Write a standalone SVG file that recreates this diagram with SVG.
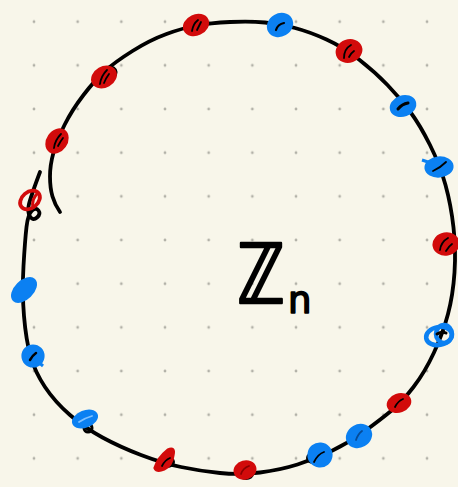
<svg xmlns="http://www.w3.org/2000/svg" width="458" height="487" viewBox="0 0 458 487">
<defs>
<pattern id="grid" patternUnits="userSpaceOnUse" x="12.17" y="-0.13" width="43.67" height="43.67">
<circle cx="21.83" cy="21.83" r="1.4" fill="#b2b1a8"/>
</pattern>
<style>
.bg{fill:#f8f6ea}
.ring{fill:none;stroke:#000;stroke-width:3.8;stroke-linecap:round;stroke-linejoin:round}
.r{fill:#d20b0b;stroke:#d20b0b;stroke-width:3.2;stroke-linejoin:round}
.b{fill:#0b80f2;stroke:#0b80f2;stroke-width:3.2;stroke-linejoin:round}
.ro{fill:none;stroke:#d20b0b;stroke-width:3.8}
.bo{fill:none;stroke:#0b80f2;stroke-width:4.5}
.ink{fill:none;stroke:#000;stroke-width:1.8;stroke-linecap:round}
.blk{fill:#000}
.lbl{font-family:"DejaVu Sans",sans-serif;fill:#000;stroke:#000;stroke-linejoin:round}
</style>
</defs>
<rect class="bg" x="0" y="0" width="458" height="487"/>
<rect fill="url(#grid)" x="0" y="0" width="458" height="487"/>
<g id="connectors">
<path class="ring" d="M40 172 Q31 196 29 204 Q27 212 30 216.5 Q33 221 37 217.5 Q41 214 38.5 210.5 Q36 207 32 210.5 Q28 214 26.5 227 Q25 240 23.5 266 Q22 292 24 316 Q26 340 30.5 356 Q35 372 45 387 Q55 402 70 415 Q85 428 102.5 437.5 Q120 447 141 455 Q162 463 181 467 Q200 471 220 473 Q240 475 260 472.5 Q280 470 297.5 464.5 Q315 459 332.5 450.5 Q350 442 365 431 Q380 420 391 411 Q402 402 413.5 387 Q425 372 434 352.5 Q443 333 448 314 Q453 295 454.5 272.5 Q456 250 453.5 227.5 Q451 205 445.5 185 Q440 165 430 145 Q420 125 410 111.5 Q400 98 387.5 85 Q375 72 359 59.5 Q343 47 326.5 39.5 Q310 32 295 28 Q280 24 265 22.5 Q250 21 230 22 Q210 23 196.5 25.5 Q183 28 166.5 34 Q150 40 132.5 51 Q115 62 105 71 Q95 80 83.5 95 Q72 110 64.5 125 Q57 140 53.5 152.5 Q50 165 50 176.5 Q50 188 52.5 196.5 Q55 205 60 212"/>
<circle class="ring" cx="88" cy="428" r="4" style="stroke-width:3"/>
</g>
<g id="r1"><ellipse class="r" cx="196" cy="25" rx="12" ry="9" transform="rotate(-25 196 25)"/><path class="ink" d="M192 31 Q193 24 198 20 M197 30 Q199 26 201 22"/></g>
<g id="r2"><ellipse class="blk" cx="108" cy="74" rx="10" ry="8" transform="rotate(-30 108 74)"/><ellipse class="r" cx="104" cy="77" rx="12" ry="9" transform="rotate(-30 104 77)"/><path class="ink" d="M100 84 Q101 76 107 70 M104 83 Q106 78 109 74"/></g>
<g id="r3"><ellipse class="r" cx="57" cy="141" rx="12" ry="9" transform="rotate(-55 57 141)"/><path class="ink" d="M54 148 Q55 140 61 134 M58 146 Q60 142 63 138"/></g>
<g id="r4"><ellipse class="ro" cx="30" cy="200" rx="11" ry="8" transform="rotate(-40 30 200)"/><path class="ro" d="M33 209 Q31 198 39 192" style="stroke-width:3"/></g>
<g id="r5"><ellipse class="r" cx="349" cy="51" rx="12" ry="10" transform="rotate(-20 349 51)"/><path class="ink" d="M344 58 Q344 49 351 45 M349 57 Q351 53 354 51"/></g>
<g id="r6"><ellipse class="r" cx="446" cy="244" rx="12" ry="10" transform="rotate(-10 446 244)"/><path class="ink" d="M440 250 Q441 242 448 238 M446 251 Q449 246 452 244"/></g>
<g id="r7"><ellipse class="r" cx="399" cy="403" rx="11" ry="8" transform="rotate(-20 399 403)"/><path class="ink" d="M395 407 Q398 401 403 399"/></g>
<g id="r8"><ellipse class="blk" cx="246" cy="474" rx="8" ry="6"/><ellipse class="r" cx="245" cy="470" rx="10" ry="8" transform="rotate(-15 245 470)"/><path class="ink" d="M241 474 Q243 468 249 466" style="stroke:#8a0000"/></g>
<g id="r9"><ellipse class="blk" cx="167" cy="462" rx="8" ry="6"/><path class="r" d="M155 468 Q158 458 168 450 Q175 447 173 455 Q172 465 164 469 Q157 472 155 468 Z"/><path class="ink" d="M162 466 Q165 460 170 458"/></g>
<g id="b1"><ellipse class="b" cx="280" cy="25" rx="12" ry="10" transform="rotate(-30 280 25)"/><path class="ink" d="M276 30 Q278 24 284 23" style="stroke-width:2.2"/></g>
<g id="b2"><ellipse class="b" cx="403" cy="106" rx="12" ry="9" transform="rotate(-20 403 106)"/><path class="ink" d="M398 109 Q402 104 408 103" style="stroke-width:3"/></g>
<g id="b3"><ellipse class="b" cx="439" cy="167" rx="13" ry="9" transform="rotate(-5 439 167)"/><path class="b" d="M422 160 L434 164" style="stroke-width:3"/><path class="ink" d="M433 171 Q440 168 446 162"/></g>
<g id="b4"><ellipse class="bo" cx="439" cy="336" rx="13" ry="9" transform="rotate(-10 439 336)"/><ellipse class="bo" cx="444" cy="334" rx="8" ry="9"/><path class="ink" d="M437 334 Q442 331 446 333" style="stroke-width:3"/></g>
<g id="b5"><ellipse class="b" cx="359" cy="436" rx="12" ry="10" transform="rotate(-30 359 436)"/><path class="ink" d="M356 440 Q358 434 362 431" style="stroke:#064a96"/></g>
<g id="b6"><ellipse class="blk" cx="313" cy="458" rx="7" ry="6"/><ellipse class="b" cx="320" cy="455" rx="11" ry="11" transform="rotate(-40 320 455)"/><path class="ink" d="M314 462 Q318 454 324 452"/></g>
<g id="b7"><ellipse class="b" cx="85" cy="419" rx="12" ry="7" transform="rotate(-22 85 419)"/><path class="ink" d="M79 422 Q85 418 92 416" style="stroke:#7fc0ff"/></g>
<g id="b8"><ellipse class="b" cx="33" cy="356" rx="10" ry="10"/><path class="b" d="M36 360 L43 366" style="stroke-width:3"/><path class="ink" d="M30 360 Q33 355 36 353" style="stroke-width:2.5"/></g>
<g id="b9"><ellipse class="b" cx="24" cy="290" rx="14" ry="8" transform="rotate(-45 24 290)"/></g>
<g id="label">
<text class="lbl" transform="translate(237 303) scale(0.78 1)" font-size="82" stroke-width="2.5">ℤ</text>
<text class="lbl" x="288" y="313" font-size="37" stroke-width="1.6">n</text>
</g>
</svg>
